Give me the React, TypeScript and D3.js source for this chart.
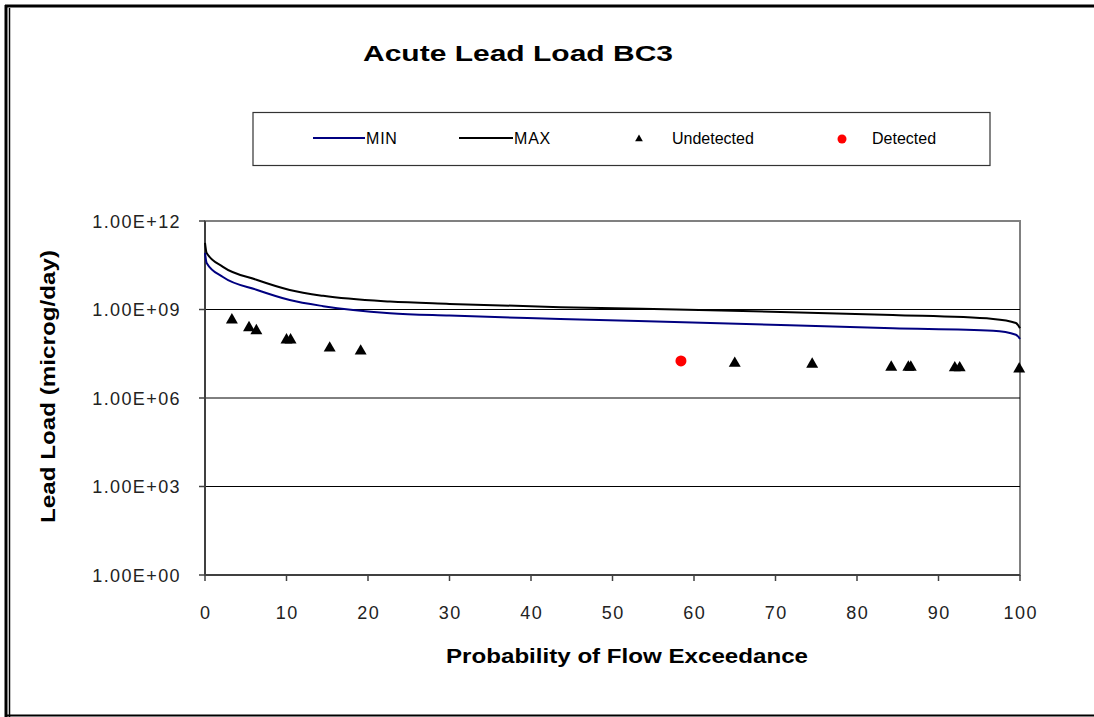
import * as d3 from "d3";

// Probability of flow exceedance (%) and load (microg/day) for the MAX / MIN curves
const MAX_PROB = [0, 0.2, 2.2, 6.4, 10.4, 14.5, 22.7, 30, 43.6, 62, 84.4, 96.7, 99.5, 100];
const MAX_LOAD = [1.8e11, 8.3e10, 2.8e10, 1.0e10, 4.6e9, 2.9e9, 1.85e9, 1.55e9, 1.2e9, 9.5e8, 6.5e8, 4.8e8, 3.5e8, 2.3e8];

const MIN_PROB = [0, 0.2, 2.2, 6.4, 10.4, 14.5, 22.7, 30, 43.6, 62, 84.4, 96.7, 99.5, 100];
const MIN_LOAD = [8.3e10, 3.8e10, 1.26e10, 4.6e9, 2.1e9, 1.3e9, 7.5e8, 6.2e8, 4.8e8, 3.5e8, 2.3e8, 1.9e8, 1.4e8, 1.0e8];

// sampled loads
const UNDET_PROB = [3.3, 5.4, 6.3, 10.0, 10.5, 15.3, 19.1, 65.0, 74.5, 84.2, 86.3, 86.6, 92.0, 92.6, 99.9];
const UNDET_LOAD = [4.4e8, 2.4e8, 1.9e8, 9.3e7, 9.3e7, 4.9e7, 3.9e7, 1.5e7, 1.4e7, 1.1e7, 1.1e7, 1.1e7, 1.05e7, 1.05e7, 9.6e6];

const DET_PROB = [58.4];
const DET_LOAD = [1.8e7];

const X_TICKS = [0, 10, 20, 30, 40, 50, 60, 70, 80, 90, 100];
const Y_TICKS = [1, 1e3, 1e6, 1e9, 1e12];
const Y_TICK_LABELS = ["1.00E+00", "1.00E+03", "1.00E+06", "1.00E+09", "1.00E+12"];

const W = 1094;
const H = 717;
const plot = { left: 205, right: 1020, top: 221, bottom: 575 };
const FONT = "'Liberation Sans', Arial, sans-serif";

export default function App() {
  const x = d3.scaleLinear().domain([0, 100]).range([plot.left, plot.right]);
  const y = d3.scaleLog().domain([1, 1e12]).range([plot.bottom, plot.top]);

  const line = d3
    .line<[number, number]>()
    .x((d) => x(d[0]))
    .y((d) => y(d[1]))
    .curve(d3.curveMonotoneX);

  const maxPts = MAX_PROB.map((p, i) => [p, MAX_LOAD[i]] as [number, number]);
  const minPts = MIN_PROB.map((p, i) => [p, MIN_LOAD[i]] as [number, number]);

  const tri = d3.symbol(d3.symbolTriangle, 62)() || "";
  const triSmall = d3.symbol(d3.symbolTriangle, 26)() || "";

  return (
    <div>
      <style>{`body{margin:0}`}</style>
      <svg width={W} height={H} style={{ display: "block", fontFamily: FONT }}>
        <rect x={0} y={0} width={W} height={H} fill="#fff" />

        {/* outer frame */}
        <line x1={5} x2={W} y1={6} y2={6} stroke="#000" strokeWidth={3} />
        <line x1={6} x2={6} y1={5} y2={717} stroke="#000" strokeWidth={3} />
        <line x1={9.5} x2={9.5} y1={8} y2={717} stroke="#000" strokeWidth={1.5} />
        <line x1={5} x2={W} y1={715.5} y2={715.5} stroke="#000" strokeWidth={2} />

        {/* title */}
        <text x={518} y={61} textAnchor="middle" fontSize={22} fontWeight="bold"
          textLength={310} lengthAdjust="spacingAndGlyphs">
          Acute Lead Load BC3
        </text>

        {/* legend */}
        <rect x={253} y={112.5} width={737} height={53} fill="#fff" stroke="#333" strokeWidth={1.2} />
        <line x1={313} x2={365} y1={138} y2={138} stroke="#000080" strokeWidth={2} />
        <text x={366} y={144} fontSize={16} letterSpacing={0.8}>MIN</text>
        <line x1={459} x2={513} y1={138} y2={138} stroke="#000" strokeWidth={2} />
        <text x={514} y={144} fontSize={16} letterSpacing={0.8}>MAX</text>
        <path d={triSmall} transform="translate(639,139)" fill="#000" />
        <text x={672} y={144} fontSize={16}>Undetected</text>
        <circle cx={842} cy={139} r={4.5} fill="#ff0000" />
        <text x={872} y={144} fontSize={16}>Detected</text>

        {/* plot area border */}
        <rect x={plot.left} y={plot.top} width={plot.right - plot.left} height={plot.bottom - plot.top}
          fill="none" stroke="#808080" strokeWidth={2} />

        {/* gridlines */}
        {Y_TICKS.slice(1, -1).map((t) => (
          <line key={t} x1={plot.left} x2={plot.right} y1={y(t)} y2={y(t)} stroke="#000" strokeWidth={1} />
        ))}

        {/* axes */}
        <line x1={plot.left} x2={plot.left} y1={plot.top} y2={plot.bottom} stroke="#404040" strokeWidth={2} />
        <line x1={plot.left} x2={plot.right} y1={plot.bottom} y2={plot.bottom} stroke="#404040" strokeWidth={2} />
        {Y_TICKS.map((t, i) => (
          <g key={t}>
            <line x1={plot.left - 6} x2={plot.left} y1={y(t)} y2={y(t)} stroke="#404040" strokeWidth={1.5} />
            <text x={181} y={y(t) + 6.5} textAnchor="end" fontSize={18} letterSpacing={1.4} fill="#222">
              {Y_TICK_LABELS[i]}
            </text>
          </g>
        ))}
        {X_TICKS.map((t) => (
          <g key={t}>
            <line x1={x(t)} x2={x(t)} y1={plot.bottom} y2={plot.bottom + 6} stroke="#404040" strokeWidth={1.5} />
            <text x={x(t) + 0.7} y={619} textAnchor="middle" fontSize={18} letterSpacing={1.4} fill="#222">
              {t}
            </text>
          </g>
        ))}

        {/* axis titles */}
        <text x={627} y={663} textAnchor="middle" fontSize={20} fontWeight="bold"
          textLength={362} lengthAdjust="spacingAndGlyphs">
          Probability of Flow Exceedance
        </text>
        <text transform="translate(55,386.5) rotate(-90)" textAnchor="middle" fontSize={20} fontWeight="bold"
          textLength={273} lengthAdjust="spacingAndGlyphs">
          Lead Load (microg/day)
        </text>

        {/* curves */}
        <path d={line(maxPts) || ""} fill="none" stroke="#000" strokeWidth={2} />
        <path d={line(minPts) || ""} fill="none" stroke="#000080" strokeWidth={2} />

        {/* samples */}
        {UNDET_PROB.map((p, i) => (
          <path key={i} d={tri} transform={`translate(${x(p)},${y(UNDET_LOAD[i])})`} fill="#000" />
        ))}
        {DET_PROB.map((p, i) => (
          <circle key={i} cx={x(p)} cy={y(DET_LOAD[i])} r={5.5} fill="#ff0000" />
        ))}
      </svg>
    </div>
  );
}
